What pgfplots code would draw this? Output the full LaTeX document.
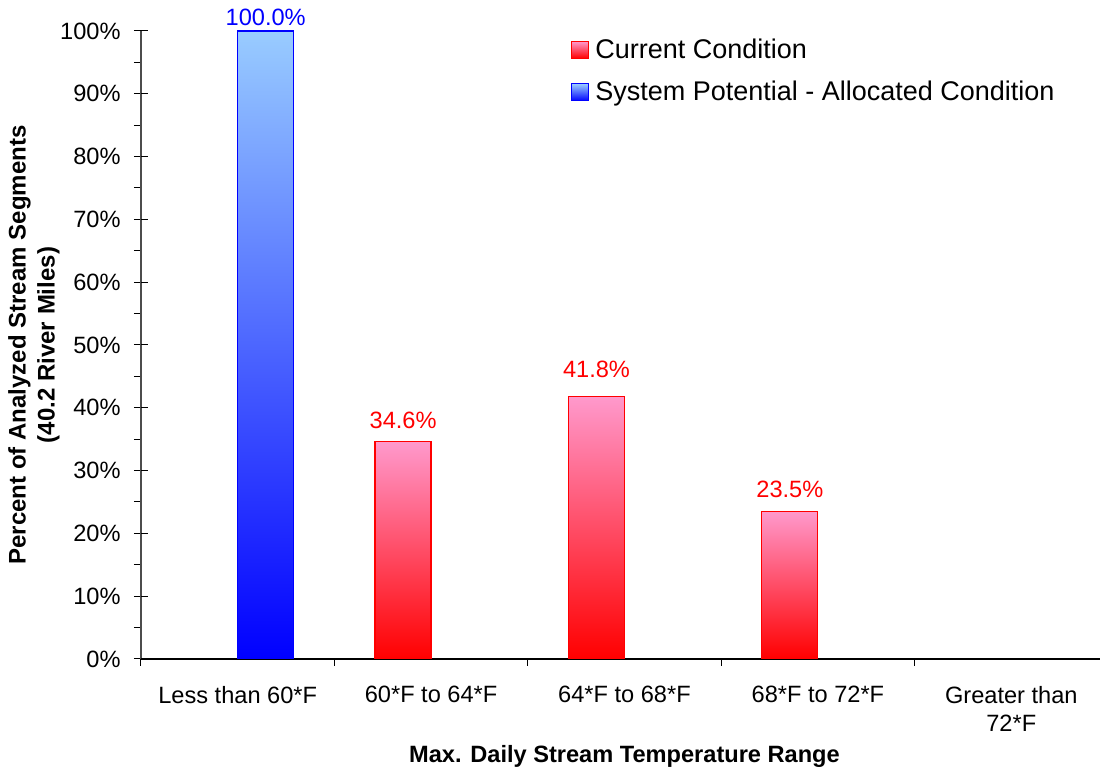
\documentclass[border=0pt]{standalone}
\usepackage{pgfplots}
\pgfplotsset{compat=1.18}
\usepackage{fontspec}
\setmainfont{Liberation Sans}
\definecolor{pinktop}{HTML}{FF99CC}
\definecolor{redbot}{HTML}{FF0000}
\definecolor{bluetop}{HTML}{99CCFF}
\definecolor{bluebot}{HTML}{0000FF}

\newcommand{\tfont}{\fontsize{11.8}{14}\selectfont}

\pgfplotsset{
  currentbar/.style={draw=redbot, line width=0.6pt, top color=pinktop, bottom color=redbot,
    bar shift=-14pt,
    legend image code/.code={\draw[##1] (0pt,-4.25pt) rectangle (8.5pt,4.25pt);},
    every node near coord/.append style={text=red, font=\tfont, inner sep=0pt, anchor=base, yshift=#1}},
  potentialbar/.style={draw=bluebot, line width=0.6pt, top color=bluetop, bottom color=bluebot,
    bar shift=14pt,
    legend image code/.code={\draw[##1] (0pt,-4.25pt) rectangle (8.5pt,4.25pt);},
    every node near coord/.append style={text=blue, font=\tfont, inner sep=0pt, anchor=base, yshift=#1}},
}

\begin{document}
\begin{tikzpicture}
\useasboundingbox (-70.5pt,-55pt) rectangle (479.5pt,329.5pt);
\begin{axis}[
  at={(0pt,0pt)}, anchor=south west,
  scale only axis, width=483.5pt, height=314pt,
  xmin=-0.5, xmax=4.5, ymin=0, ymax=100,
  ybar=0pt, bar width=28pt,
  axis x line=bottom, axis y line=left, axis line style={-},
  x axis line style={black, line width=0.6pt},
  y axis line style={gray!60!black, line width=0.8pt},
  xtick={-0.5,0.5,...,4.5}, x tick label as interval,
  xticklabels={Less than 60*F, 60*F to 64*F, 64*F to 68*F, 68*F to 72*F, {Greater than\\72*F}},
  ytick={0,10,...,100},
  yticklabels={0\%,10\%,20\%,30\%,40\%,50\%,60\%,70\%,80\%,90\%,100\%},
  minor y tick num=1,
  tick align=outside, major tick length=3.5pt, minor tick length=3.5pt,
  extra y ticks={0,10,...,100}, extra y tick labels={},
  extra y tick style={tick align=inside},
  tick style={black, line width=0.5pt},
  xticklabel style={font=\tfont, align=center, inner sep=0pt, anchor=north, yshift=-9.85pt},
  yticklabel style={font=\tfont, inner sep=0pt, xshift=-6.5pt},
  ylabel={Percent of Analyzed Stream Segments\\(40.2 River Miles)},
  ylabel style={font=\bfseries\fontsize{12}{14.5}\selectfont, align=center, at={(axis description cs:-0.1107,0.5)}, anchor=center},
  xlabel={Max. Daily Stream Temperature Range},
  xlabel style={font=\bfseries\tfont, at={(axis description cs:0.5,0)}, yshift=-52pt, anchor=base},
  legend style={at={(rel axis cs:0.4444,0.995)}, anchor=north west, draw=none, fill=none,
    font=\fontsize{13.5}{15}\selectfont, inner sep=0pt, row sep=6pt,
    nodes={inner xsep=3pt}},
  legend cell align=left,
  nodes near coords={\pgfmathprintnumber[fixed,fixed zerofill,precision=1,assume math mode=true]{\pgfplotspointmeta}\%},
]
\addplot[currentbar=6.5pt] coordinates {(1,34.6)};
\addlegendentry{Current Condition}
\addplot[potentialbar=2.5pt] coordinates {(0,100)};
\addlegendentry{System Potential - Allocated Condition}
\addplot[currentbar=9.5pt, forget plot] coordinates {(2,41.8)};
\addplot[currentbar=7pt, forget plot] coordinates {(3,23.5)};
\end{axis}
\end{tikzpicture}
\end{document}
